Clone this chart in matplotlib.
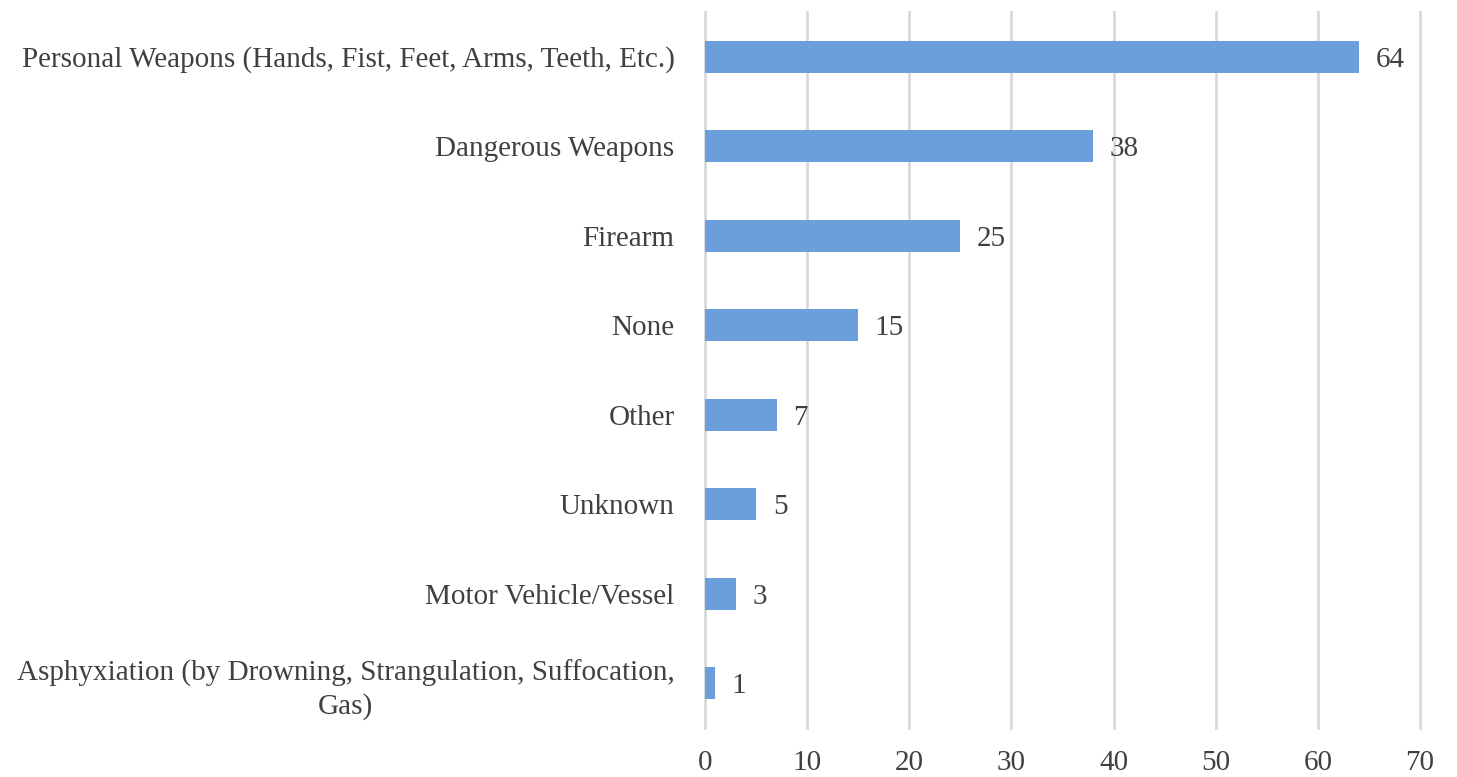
import matplotlib
matplotlib.use("Agg")
import matplotlib.pyplot as plt

categories = [
    "Personal Weapons (Hands, Fist, Feet, Arms, Teeth, Etc.)",
    "Dangerous Weapons",
    "Firearm",
    "None",
    "Other",
    "Unknown",
    "Motor Vehicle/Vessel",
    "Asphyxiation (by Drowning, Strangulation, Suffocation,\nGas)",
]
values = [64, 38, 25, 15, 7, 5, 3, 1]
x_ticks = [0, 10, 20, 30, 40, 50, 60, 70]

plt.rcParams["font.family"] = ["Liberation Serif", "DejaVu Serif"]
txt_color = "#404040"
bar_color = "#6B9FDB"

fig = plt.figure(figsize=(14.57, 7.77), dpi=100)
ax = fig.add_axes([705 / 1457, 1 - 728 / 777, (1420 - 705) / 1457, (728 - 12) / 777])

ypos = list(range(len(categories)))
ax.barh(ypos, values, height=0.36, color=bar_color, zorder=3)
ax.set_ylim(len(categories) - 0.5, -0.5)
ax.set_xlim(0, 70)
ax.set_xticks(x_ticks)
ax.set_xticklabels([str(t) for t in x_ticks])
ax.set_yticks(ypos)
ax.set_yticklabels(categories, ha="right")
for lbl in ax.get_yticklabels():
    lbl.set_multialignment("center")
    lbl.set_linespacing(1.3)

ax.tick_params(axis="both", length=0, labelsize=21, colors=txt_color)
ax.tick_params(axis="y", pad=22)
ax.tick_params(axis="x", pad=16)
for s in ax.spines.values():
    s.set_visible(False)
for t in x_ticks:
    ax.axvline(t, color="#D9D9D9", linewidth=2, zorder=0, clip_on=False)

for y, v in zip(ypos, values):
    ax.annotate(str(v), (v, y), xytext=(12, -2), textcoords="offset points",
                va="center", ha="left", fontsize=21, color=txt_color)

fig.savefig("out.png", dpi=100, facecolor="white")
